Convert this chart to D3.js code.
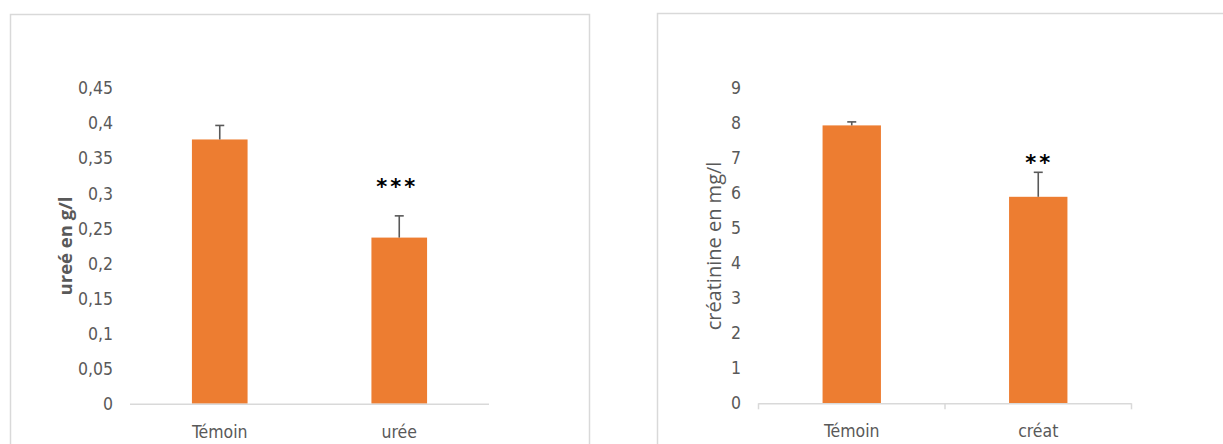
<!DOCTYPE html>
<html><head><meta charset="utf-8">
<script src="https://cdn.jsdelivr.net/npm/d3@7/dist/d3.min.js"></script>
<style>
html,body{margin:0;padding:0;background:#fff;}
svg{display:block;}
text{font-family:"Liberation Sans Narrow","DejaVu Sans Condensed","Liberation Sans",sans-serif;}
</style></head>
<body>
<svg id="c" width="1223" height="444"></svg>
<script>
// ---- Data ----
const ureeCategories = ["Témoin", "urée"];
const ureeValues = [0.377, 0.237];
const ureeErrors = [0.020, 0.031];
const ureeStars = ["", "***"];
const ureeTicks = [0, 0.05, 0.1, 0.15, 0.2, 0.25, 0.3, 0.35, 0.4, 0.45];
const ureeTickLabels = ["0", "0,05", "0,1", "0,15", "0,2", "0,25", "0,3", "0,35", "0,4", "0,45"];
const ureeTitle = "ureé en g/l";

const creatCategories = ["Témoin", "créat"];
const creatValues = [7.94, 5.90];
const creatErrors = [0.10, 0.70];
const creatStars = ["", "**"];
const creatTicks = [0, 1, 2, 3, 4, 5, 6, 7, 8, 9];
const creatTickLabels = ["0", "1", "2", "3", "4", "5", "6", "7", "8", "9"];
const creatTitle = "créatinine en mg/l";

const svg = d3.select("#c");
const ORANGE = "#ED7D31", GRID = "#D9D9D9", TXT = "#595959", ERR = "#595959";

function panel(cfg) {
  const g = svg.append("g");
  g.append("rect").attr("x", cfg.box[0] + 0.5).attr("y", cfg.box[1] + 0.5)
    .attr("width", cfg.box[2]).attr("height", cfg.box[3])
    .attr("fill", "#fff").attr("stroke", GRID).attr("stroke-width", 1.5);

  const x = d3.scaleBand().domain(cfg.cats).range([cfg.x0, cfg.x1]).padding(0);
  const y = d3.scaleLinear().domain([0, cfg.ticks[cfg.ticks.length - 1]]).range([cfg.y0, cfg.yTop]);
  const bw = x.bandwidth() * cfg.barRatio;

  const ya = d3.axisLeft(y).tickValues(cfg.ticks).tickSize(0).tickPadding(0)
    .tickFormat((d, i) => cfg.tickLabels[i]);
  const yg = g.append("g").attr("transform", `translate(${cfg.tickRight},0)`).call(ya);
  yg.select(".domain").remove();
  yg.selectAll("text").attr("fill", TXT).style("font-size", "17.5px");

  g.selectAll("rect.bar").data(cfg.vals).enter().append("rect").attr("class", "bar")
    .attr("x", (d, i) => x(cfg.cats[i]) + (x.bandwidth() - bw) / 2)
    .attr("y", d => y(d)).attr("width", bw).attr("height", d => y(0) - y(d))
    .attr("fill", ORANGE);

  const xa = d3.axisBottom(x).tickSize(0).tickPadding(0);
  const xg = g.append("g").attr("transform", `translate(0,${cfg.y0})`).call(xa);
  xg.select(".domain").attr("stroke", GRID).attr("stroke-width", 1.5)
    .attr("d", `M${cfg.x0},0.5H${cfg.x1}`);
  xg.selectAll(".tick text").attr("fill", TXT).attr("dy", 0).attr("y", 34)
    .style("font-size", "17.5px");
  if (cfg.boundaryTicks) {
    const bounds = cfg.cats.map(c => x(c)).concat([cfg.x1]);
    xg.selectAll("line.bt").data(bounds).enter().append("line").attr("class", "bt")
      .attr("x1", d => d).attr("x2", d => d).attr("y1", 0).attr("y2", 6)
      .attr("stroke", GRID).attr("stroke-width", 1.5);
  }

  cfg.vals.forEach((v, i) => {
    const cx = x(cfg.cats[i]) + x.bandwidth() / 2;
    const top = y(v + cfg.errs[i]);
    g.append("line").attr("x1", cx).attr("x2", cx).attr("y1", y(v)).attr("y2", top)
      .attr("stroke", ERR).attr("stroke-width", 1.6);
    g.append("line").attr("x1", cx - 4.5).attr("x2", cx + 4.5).attr("y1", top).attr("y2", top)
      .attr("stroke", ERR).attr("stroke-width", 1.6);
    if (cfg.stars[i]) {
      g.append("text").attr("x", cx + cfg.starDx).attr("y", top - cfg.starGap)
        .attr("text-anchor", "middle").attr("fill", "#000")
        .style("font-family", '"DejaVu Sans",sans-serif').style("font-size", "21px")
        .style("font-weight", "bold").style("letter-spacing", "3px").text(cfg.stars[i]);
    }
  });

  g.append("text").attr("transform", `translate(${cfg.titleX},${cfg.titleY}) rotate(-90)`)
    .attr("text-anchor", "middle").attr("fill", cfg.titleColor)
    .style("font-family", '"Open Sans","DejaVu Sans",sans-serif')
    .style("font-size", cfg.titleSize).style("font-weight", cfg.titleWeight)
    .text(cfg.title);
}

panel({
  box: [10, 14, 579, 440], cats: ureeCategories, vals: ureeValues, errs: ureeErrors,
  stars: ureeStars, ticks: ureeTicks, tickLabels: ureeTickLabels, title: ureeTitle,
  x0: 130, x1: 489, y0: 403.7, yTop: 88.3, tickRight: 113, barRatio: 0.31,
  boundaryTicks: false, starGap: 22, starDx: -2, titleX: 72, titleY: 246, titleSize: "18.5px",
  titleWeight: "bold", titleColor: "#595959"
});
panel({
  box: [657, 13, 600, 440], cats: creatCategories, vals: creatValues, errs: creatErrors,
  stars: creatStars, ticks: creatTicks, tickLabels: creatTickLabels, title: creatTitle,
  x0: 758.5, x1: 1131.5, y0: 403.3, yTop: 88.3, tickRight: 741, barRatio: 0.313,
  boundaryTicks: true, starGap: 2, starDx: 1, titleX: 721, titleY: 246, titleSize: "20px",
  titleWeight: "normal", titleColor: "#595959"
});
</script>
</body></html>
